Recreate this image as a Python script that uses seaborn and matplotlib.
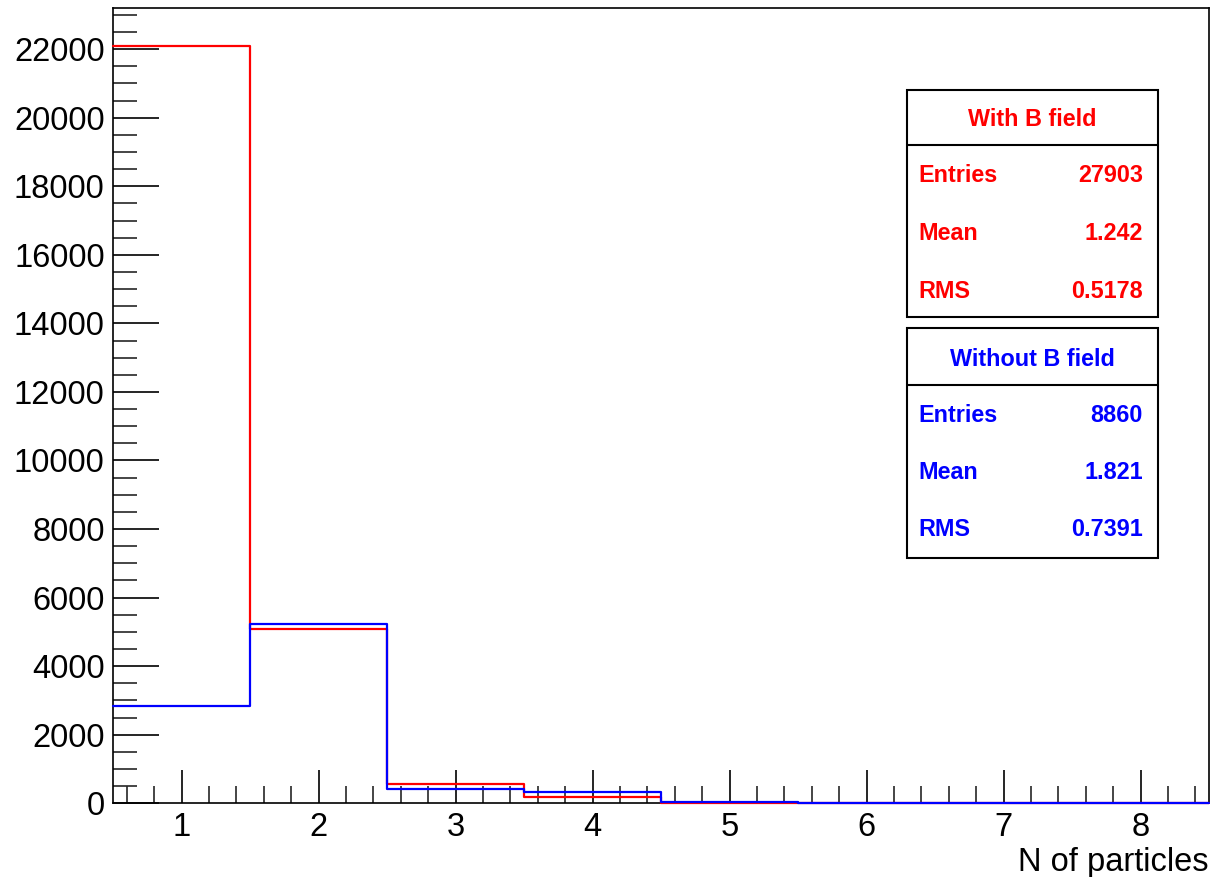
import numpy as np
import pandas as pd
import matplotlib
matplotlib.use("Agg")
import matplotlib.pyplot as plt
from matplotlib.patches import Rectangle
from matplotlib.ticker import MultipleLocator
import seaborn as sns

# ---- data ----
bin_centers = [1, 2, 3, 4, 5, 6, 7, 8]
with_b = [22095, 5075, 553, 173, 5, 2, 0, 0]
without_b = [2837, 5225, 417, 321, 40, 20, 0, 0]
bin_edges = [0.5, 1.5, 2.5, 3.5, 4.5, 5.5, 6.5, 7.5, 8.5]

stat_titles = ["With B field", "Without B field"]
stat_names = ["Entries", "Mean", "RMS"]
stat_values_with = ["27903", "1.242", "0.5178"]
stat_values_without = ["8860", "1.821", "0.7391"]
xlabel_text = "N of particles"

sns.set_style("white")
plt.rcParams["font.family"] = ["Liberation Sans", "DejaVu Sans"]

W, H = 1210, 877
fig = plt.figure(figsize=(W / 100, H / 100), dpi=100)
ax = fig.add_axes([113 / W, 1 - 803.3 / H, (1209 - 113) / W, (803.3 - 8) / H])

df_r = pd.DataFrame({"x": bin_centers, "w": with_b})
df_b = pd.DataFrame({"x": bin_centers, "w": without_b})

sns.histplot(data=df_r, x="x", weights="w", bins=bin_edges, element="step",
             fill=False, color=(1, 0, 0), linewidth=1.6, ax=ax)
sns.histplot(data=df_b, x="x", weights="w", bins=bin_edges, element="step",
             fill=False, color=(0, 0, 1), linewidth=1.6, ax=ax)
for ln in ax.lines:
    ln.set_clip_on(False)
    ln.set_zorder(3)

ax.set_xlim(0.5, 8.5)
ax.set_ylim(0, 23200)
ax.xaxis.set_major_locator(MultipleLocator(1))
ax.xaxis.set_minor_locator(MultipleLocator(0.2))
ax.yaxis.set_major_locator(MultipleLocator(2000))
ax.yaxis.set_minor_locator(MultipleLocator(500))

for s in ax.spines.values():
    s.set_color("black")
    s.set_linewidth(1.2)

ax.tick_params(axis="x", which="major", direction="in", length=24, width=1.2,
               labelsize=23.5, pad=6, colors="black", bottom=True, top=False)
ax.tick_params(axis="x", which="minor", direction="in", length=12, width=1.2,
               bottom=True, top=False)
ax.tick_params(axis="y", which="major", direction="in", length=33, width=1.2,
               labelsize=23.5, pad=6, colors="black", left=True, right=False)
ax.tick_params(axis="y", which="minor", direction="in", length=17, width=1.2,
               left=True, right=False)

ax.set_ylabel("")
ax.set_xlabel(xlabel_text, loc="right", fontsize=23.5, labelpad=3, color="black")


def fx(px):
    return px / W


def fy(py):
    return 1 - py / H


def stat_box(top, bottom, divider, title, values, color, rows_y, title_y):
    x0, x1 = 907, 1158
    fig.add_artist(Rectangle((fx(x0), fy(bottom)), fx(x1) - fx(x0), fy(top) - fy(bottom),
                             transform=fig.transFigure, fill=True, facecolor="white",
                             edgecolor="black", linewidth=1.5, zorder=5))
    fig.add_artist(plt.Line2D([fx(x0), fx(x1)], [fy(divider), fy(divider)],
                              transform=fig.transFigure, color="black", linewidth=1.5, zorder=6))
    fig.text(fx((x0 + x1) / 2), fy(title_y), title, color=color, fontsize=16.8,
             fontweight="bold", ha="center", va="center_baseline", zorder=7)
    for name, val, ry in zip(stat_names, values, rows_y):
        fig.text(fx(918), fy(ry), name, color=color, fontsize=16.8, fontweight="bold",
                 ha="left", va="center_baseline", zorder=7)
        fig.text(fx(1143), fy(ry), val, color=color, fontsize=16.8, fontweight="bold",
                 ha="right", va="center_baseline", zorder=7)


stat_box(90, 317, 145, stat_titles[0], stat_values_with, (1, 0, 0), [172.5, 230.5, 288.5], 117.5)
stat_box(328, 558, 385, stat_titles[1], stat_values_without, (0, 0, 1), [412.5, 469.5, 526.5], 357.5)

fig.savefig("out.png", dpi=100)
